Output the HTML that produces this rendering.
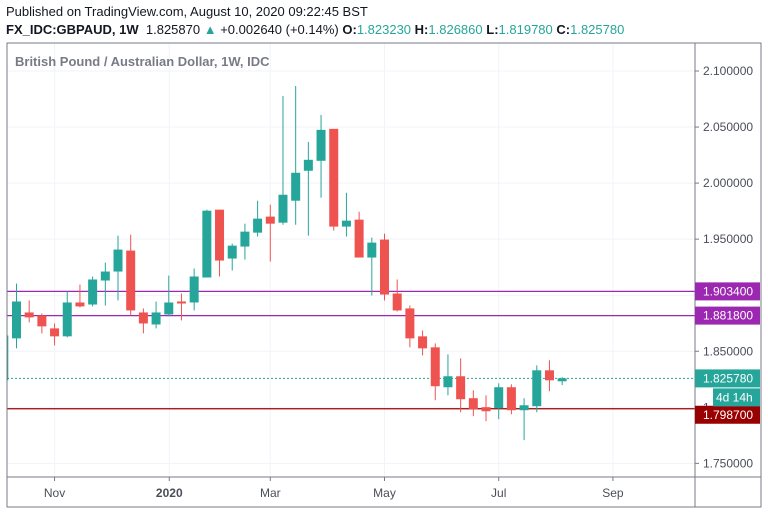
<!DOCTYPE html>
<html><head><meta charset="utf-8"><style>
body{margin:0;background:#fff;width:768px;height:513px;overflow:hidden;font-family:"Liberation Sans",sans-serif}
.h1{position:absolute;left:6px;top:4px;font-size:13px;color:#131722}
.h2{position:absolute;left:6px;top:22px;font-size:13px;color:#131722}
.g{color:#26a69a}
</style></head><body>
<div class="h1">Published on TradingView.com, August 10, 2020 09:22:45 BST</div>
<div class="h2"><b>FX_IDC:GBPAUD, 1W</b>&nbsp; 1.825870 <span class="g">▲</span> +0.002640 (+0.14%) <b>O:</b><span class="g">1.823230</span> <b>H:</b><span class="g">1.826860</span> <b>L:</b><span class="g">1.819780</span> <b>C:</b><span class="g">1.825780</span></div>
<svg id="c" width="768" height="513" style="position:absolute;left:0;top:0"></svg>
<script>
const opens=[1.8241,1.8615,1.8846,1.8819,1.8704,1.8633,1.8935,1.8917,1.9131,1.9211,1.9398,1.8846,1.8739,1.8828,1.8944,1.8935,1.9158,1.9763,1.9327,1.9434,1.9558,1.9701,1.9647,1.9843,2.0110,2.0199,2.0484,1.9612,1.9674,1.9336,1.9496,1.9015,1.8882,1.8633,1.8535,1.8179,1.8277,1.8081,1.8001,1.7992,1.8179,1.7974,1.8010,1.8330,1.8232];
const highs=[1.8659,1.9104,1.8953,1.8837,1.8748,1.9033,1.9095,1.9167,1.9291,1.9531,1.9540,1.8882,1.8944,1.9175,1.9015,1.9238,1.9763,1.9763,1.9460,1.9638,1.9843,1.9807,2.0777,2.0866,2.0368,2.0608,2.0484,1.9914,1.9745,1.9514,1.9549,1.9140,1.8908,1.8686,1.8570,1.8472,1.8437,1.8152,1.8107,1.8214,1.8205,1.8081,1.8374,1.8419,1.8269];
const lows=[1.8223,1.8526,1.8757,1.8659,1.8552,1.8624,1.8891,1.8900,1.8908,1.8953,1.8819,1.8659,1.8704,1.8811,1.8775,1.8864,1.9158,1.9167,1.9220,1.9318,1.9523,1.9300,1.9629,1.9629,1.9531,1.9870,1.9576,1.9523,1.9336,1.8997,1.8953,1.8855,1.8535,1.8463,1.8063,1.8107,1.7956,1.7921,1.7876,1.7894,1.7938,1.7707,1.7956,1.8143,1.8198];
const closes=[1.8641,1.8944,1.8802,1.8722,1.8633,1.8935,1.8900,1.9140,1.9211,1.9407,1.8864,1.8748,1.8846,1.8935,1.8926,1.9167,1.9754,1.9309,1.9442,1.9567,1.9683,1.9638,1.9896,2.0092,2.0208,2.0475,1.9612,1.9665,1.9336,1.9469,1.9006,1.8864,1.8615,1.8526,1.8188,1.8277,1.8072,1.7983,1.7965,1.8179,1.7974,1.8018,1.8330,1.8241,1.8258];
const priceTicks=[2.1,2.05,2.0,1.95,1.9,1.85,1.8,1.75];
const timeLabels=["Nov","2020","Mar","May","Jul","Sep"];
const timeIdx=[4.0,13.04,21.0,30.0,39.0,48.0];
const levels=[1.9034,1.8818,1.7987];
const levelColors=["#9c27b0","#9c27b0","#990000"];
const lastPrice=1.82578;
</script>
<script>
const svg=document.getElementById('c');const NS='http://www.w3.org/2000/svg';
const L=7,R=695,T=43,B=477,W=761,BB=507;
const y=p=>71+(2.1-p)*1121;
const x=i=>3.8+i*12.69;
function mk(t,a,p){const e=document.createElementNS(NS,t);for(const k in a)e.setAttribute(k,a[k]);(p||svg).appendChild(e);return e;}
priceTicks.forEach(p=>{const l=mk('line',{x1:L,x2:R,y1:y(p),y2:y(p),stroke:'#f0f3fa'});

});
timeIdx.forEach(i=>{const l=mk('line',{x1:x(i),x2:x(i),y1:T,y2:B,stroke:'#f0f3fa'});

});
const title=mk('text',{x:15,y:66,'font-size':13,fill:'#787b86','font-weight':'bold'});title.textContent='British Pound / Australian Dollar, 1W, IDC';


const clip=mk('clipPath',{id:'cp'});mk('rect',{x:L,y:T,width:R-L,height:B-T},clip);
const g=mk('g',{'clip-path':'url(#cp)'});
levels.forEach((p,k)=>{const l=mk('line',{x1:L,x2:R,y1:y(p),y2:y(p),stroke:levelColors[k],'stroke-width':1.2},g);

});
mk('line',{x1:L,x2:R,y1:y(lastPrice),y2:y(lastPrice),stroke:'#26a69a','stroke-dasharray':'2 2'},g);
opens.forEach((o,i)=>{const c=closes[i],up=c>=o,col=up?'#26a69a':'#ef5350',cx=x(i);
const w=mk('line',{x1:cx,x2:cx,y1:y(highs[i]),y2:y(lows[i]),stroke:col,'stroke-width':1},g);


const top=y(Math.max(o,c)),bot=y(Math.min(o,c));
const r=mk('rect',{x:cx-4.5,y:top,width:9,height:Math.max(1,bot-top),fill:col},g);

});
mk('rect',{x:L,y:T,width:W-L,height:BB-T,fill:'none',stroke:'#787b86'});
mk('line',{x1:R,x2:R,y1:T,y2:BB,stroke:'#787b86'});
mk('line',{x1:L,x2:W,y1:B,y2:B,stroke:'#787b86'});
priceTicks.forEach(p=>{mk('line',{x1:R,x2:R+4,y1:y(p),y2:y(p),stroke:'#787b86'});
const t=mk('text',{x:703,y:y(p)+4,'font-size':12,fill:'#4a4e58'});t.textContent=p.toFixed(6);

});
timeLabels.forEach((s,k)=>{mk('line',{x1:x(timeIdx[k]),x2:x(timeIdx[k]),y1:B,y2:B+4,stroke:'#787b86'});
const t=mk('text',{x:x(timeIdx[k]),y:497,'font-size':12,fill:'#4a4e58','text-anchor':'middle','font-weight':s==='2020'?'bold':'normal'});t.textContent=s;

});
function badge(p,col,txt,name,off){const yy=y(p)+(off||0);mk('rect',{x:R,y:yy-9,width:W-R-1,height:18,fill:col});
const t=mk('text',{x:703,y:yy+4,'font-size':12,fill:'#fff'});t.textContent=txt;

}
levels.forEach((p,k)=>badge(p,levelColors[k],p.toFixed(6),'level-price-badge',k===2?6:0));
badge(lastPrice,'#26a69a',lastPrice.toFixed(6),'last-price-badge');
mk('rect',{x:R+18,y:y(lastPrice)+10,width:W-R-19,height:18,fill:'#26a69a'});
const cd=mk('text',{x:716,y:y(lastPrice)+23,'font-size':12,fill:'#fff'});cd.textContent='4d 14h';


</script>
</body></html>
